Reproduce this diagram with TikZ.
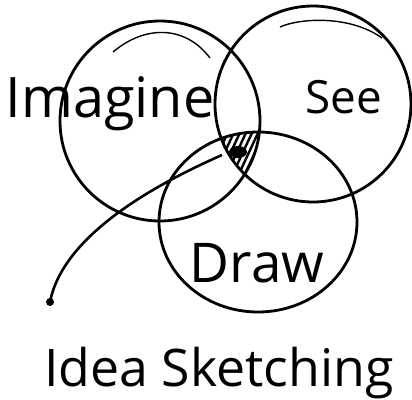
\documentclass[tikz,border=0pt]{standalone}
\usepackage{fontspec}
\setmainfont{Open Sans}
\usetikzlibrary{patterns.meta}
\tikzset{
  ring/.style={line width=2.8bp},
  sketch/.style={line width=1.4bp},
  word/.style={anchor=base, inner sep=0pt},
  pointer/.style={line width=2.6bp}
}
\begin{document}
\begin{tikzpicture}[x=1bp, y=-1bp]
    \useasboundingbox (0,0) rectangle (412,400);
    % Circles
    \draw[ring] (160,121) circle[radius=100];
    \draw[ring] (313,104) circle[radius=98];
    \draw[ring] (258,222) ellipse[x radius=99, y radius=90];
    % Second strokes on top
    \draw[sketch] (113,52) .. controls (145,25) and (185,25) .. (210,58);
    \draw[sketch] (280,27) .. controls (300,18) and (350,15) .. (382,38);

    % Shared region
    \begin{scope}
      \clip (160,121) circle[radius=100];
      \clip (313,104) circle[radius=98];
      \fill[pattern={Lines[angle=65, distance=5.5bp, line width=2.4bp]}]
        (258,222) ellipse[x radius=99, y radius=90];
      \fill (238,152) ellipse[x radius=9, y radius=6];
    \end{scope}

    % Labels
    \node[word, font=\fontsize{56}{60}\selectfont] (imagine) at (110,117) {Imagine};
    \node[word, font=\fontsize{46}{50}\selectfont] (see) at (344,113) {See};
    \node[word, font=\fontsize{55}{60}\selectfont] (draw) at (257,282) {Draw};
    \node[word, font=\fontsize{52}{56}\selectfont] (title) at (219,386) {Idea Sketching};

    % Pointer from the dot
    \coordinate (tip) at (50,302);
    \coordinate (core) at (222,155);
    \fill (tip) circle[radius=4];
    \draw[pointer] (tip) .. controls (60,250) and (120,200) .. (core);
  \end{tikzpicture}
\end{document}
